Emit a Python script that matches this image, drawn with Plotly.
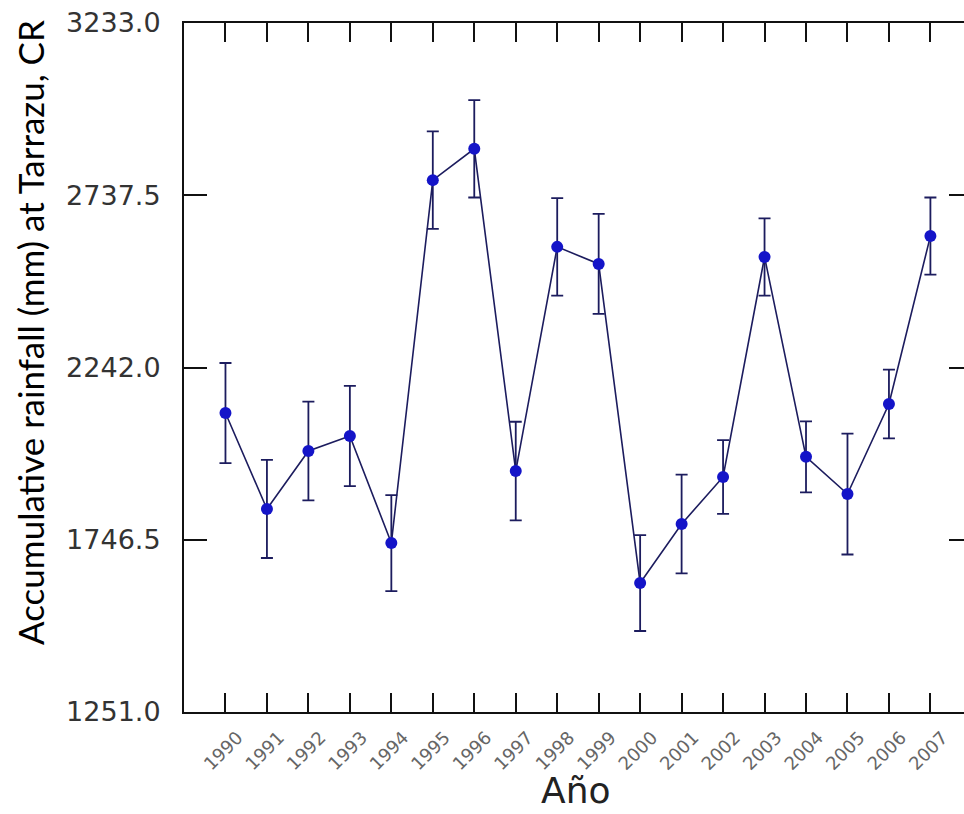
import plotly.graph_objects as go

years = [1990, 1991, 1992, 1993, 1994, 1995, 1996, 1997, 1998, 1999,
         2000, 2001, 2002, 2003, 2004, 2005, 2006, 2007]
rainfall = [2111, 1835, 2002, 2045, 1737, 2781, 2871, 1944, 2589, 2540,
            1622, 1792, 1927, 2560, 1985, 1878, 2137, 2620]
errors = [144, 141, 142, 144, 138, 140, 140, 142, 140, 144,
          138, 142, 106, 111, 102, 174, 99, 111]
ytick_vals = [1251.0, 1746.5, 2242.0, 2737.5, 3233.0]
ytick_text = ["%.1f" % v for v in ytick_vals]
xtick_text = [str(y) for y in years]

navy = "#1c1c5e"
blue = "#1414c8"

fig = go.Figure()
fig.add_trace(go.Scatter(
    x=years, y=rainfall, mode="lines+markers",
    line=dict(color=navy, width=1.6),
    marker=dict(color=blue, size=12, symbol="circle"),
    error_y=dict(type="data", array=errors, visible=True,
                 color=navy, thickness=1.8, width=6),
    showlegend=False, hoverinfo="x+y"))
# transparent copy so that the right-hand tick axis is drawn
fig.add_trace(go.Scatter(
    x=years, y=rainfall, mode="markers", yaxis="y2",
    marker=dict(opacity=0), showlegend=False, hoverinfo="skip"))

yr = [1251, 3233]
fig.update_layout(
    width=964, height=814,
    margin=dict(l=184, r=0, t=23, b=102),
    paper_bgcolor="white", plot_bgcolor="white",
    xaxis=dict(
        range=[1989, 2007.81], tickvals=years, ticktext=xtick_text,
        tickangle=-45, ticks="inside", ticklen=19, tickwidth=2,
        tickcolor="#111", showline=True, linecolor="#111", linewidth=2,
        mirror="ticks", showgrid=False, zeroline=False,
        ticklabelstandoff=6, ticklabelshift=12,
        tickfont=dict(family="DejaVu Sans", size=18, color="#666"),
    ),
    yaxis=dict(
        range=yr, tickvals=ytick_vals, ticktext=ytick_text,
        ticks="inside", ticklen=23, tickwidth=2, tickcolor="#111",
        showline=True, linecolor="#111", linewidth=2,
        showgrid=False, zeroline=False, ticklabelstandoff=16,
        tickfont=dict(family="DejaVu Sans", size=27, color="#333"),
    ),
    yaxis2=dict(
        range=yr, tickvals=ytick_vals, overlaying="y", side="right",
        anchor="x", ticks="inside", ticklen=15, tickwidth=2,
        tickcolor="#111", showline=False, showticklabels=False,
        showgrid=False, zeroline=False,
    ),
    annotations=[
        dict(text="Accumulative rainfall (mm) at Tarrazu, CR",
             xref="paper", yref="paper", x=(30 - 184) / 780,
             y=(712 - 333) / 689, xanchor="center", yanchor="middle",
             textangle=-90, showarrow=False,
             font=dict(family="Lato", size=35, color="#000")),
        dict(text="Año", xref="paper", yref="paper",
             x=(575 - 184) / 780, y=(712 - 790) / 689,
             xanchor="center", yanchor="middle", showarrow=False,
             font=dict(family="DejaVu Sans", size=36, color="#222")),
    ],
)

fig.write_html("out.html")
